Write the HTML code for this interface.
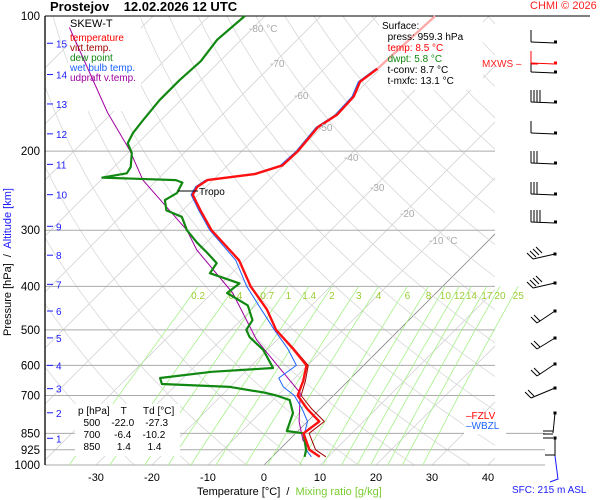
<!DOCTYPE html>
<html><head><meta charset="utf-8">
<style>
html,body{margin:0;padding:0;background:#fff;}
svg{display:block;font-family:"Liberation Sans",sans-serif;}
</style></head>
<body>
<svg id="chart" width="600" height="500" viewBox="0 0 600 500">
  <defs><clipPath id="plotclip"><rect x="45" y="16" width="450" height="449"/></clipPath></defs>
  <rect x="0" y="0" width="600" height="500" fill="#fff"/>
  <g id="grid" clip-path="url(#plotclip)"></g>
  <g id="isobars"></g>
  <g id="mixlines"></g>
  <g id="boxes">
    <rect x="68" y="17" width="73" height="94" fill="#fff"/>
    <rect x="379" y="17" width="104" height="73" fill="#fff"/>
    <rect x="75" y="404" width="105" height="52" fill="#fff"/>
    <rect x="464" y="414" width="42" height="20" fill="#fff"/>
  </g>
  <g id="series"></g>
  <g id="labels"></g>
  <g id="winds"></g>
</svg>
<script>
// ---- data ----
const presTemp = [959,925,850,800,750,700,650,600,550,500,450,400,350,300,270,250,240,232,225,215,200,177,166,151,140,131,100];
const tempVals = [8.5,5.4,1.4,2.1,-2.3,-6.4,-8.0,-10.2,-15.7,-22.0,-27.3,-34.3,-41.0,-51.3,-57.0,-61.0,-61.6,-61.0,-53.6,-50.2,-50.0,-50.7,-49.5,-49.8,-51.3,-50.5,-49.6];
const presDew = [959,925,850,840,766,717,700,690,670,660,640,620,608,554,519,500,476,441,414,394,374,355,337,320,300,280,271,257,248,235,232,229,224,217,202,192,182,170,154,139,126,113,100];
const dewVals = [5.8,4.8,1.4,-2.0,-4.1,-7.0,-10.2,-12.9,-20.0,-32.7,-34.1,-26,-15.7,-20.7,-25.4,-27.3,-27.9,-31.4,-37.3,-36.8,-43.9,-44.5,-48.0,-51.6,-55.7,-59.0,-62.9,-65.0,-64.1,-65.0,-66.6,-80.2,-76.6,-77.0,-79.3,-81.8,-82.7,-83.2,-83.8,-83.8,-83.4,-84.3,-83.6];
const presWet = [959,925,850,800,750,700,670,640,600,550,500,450,400,350,300,270,250,240,232,225,215,200,177,166,151,140,131];
const wetVals = [7.0,4.8,1.6,0.0,-3.2,-7.0,-10.5,-12.9,-12.0,-16.6,-22.3,-28.3,-35.0,-41.6,-51.6,-57.3,-61.3,-61.9,-61.3,-54.0,-50.6,-50.3,-51.0,-49.8,-50.1,-51.6,-50.8];
const presVirt = [959,925,850,800,750,700,650,600,550,500,450];
const virtVals = [9.6,6.5,2.4,3.0,-1.5,-5.8,-7.6,-9.9,-15.5,-21.9,-27.3];
const presParcel = [959,925,880,800,691,600,527,414,332,300,232,199,164,106];
const parcelVals = [8.5,5.5,2.5,-1.5,-6.4,-15.4,-23.6,-36.3,-50.4,-55.7,-72.5,-80.2,-90.9,-112.9];
const isobarLevels = [200,300,400,500,600,700,850,925,1000];
const pressureTicks = [100,200,300,400,500,600,700,850,925,1000];
const tempTicks = [-30,-20,-10,0,10,20,30,40];
const isoLabelTemps = [-80,-70,-60,-50,-40,-30,-20,-10];
const mixRatios = [0.2,0.4,0.7,1,1.4,2,3,4,6,8,10,12,14,17,20,25];
const altKm = [1,2,3,4,5,6,7,8,9,10,11,12,13,14,15];
const altPres = [872,765,676,600,521,454,396,341,294,250,214,183,157,135,115];

// ---- axes ----
const NS='http://www.w3.org/2000/svg';
function yP(p){return 16+195*Math.log(p/100);}
function xT(t,p){return 264+5.6*t+(465-yP(p));}
function el(tag,attrs,parent){const e=document.createElementNS(NS,tag);for(const k in attrs)e.setAttribute(k,attrs[k]);parent.appendChild(e);return e;}
const grid=document.getElementById('grid');
const iso=document.getElementById('isobars');
const mix=document.getElementById('mixlines');
const series=document.getElementById('series');
const labels=document.getElementById('labels');
const winds=document.getElementById('winds');

for(let t=-130;t<=40;t+=10){
  const l=el('line',{x1:xT(t,1000),y1:yP(1000),x2:xT(t,100),y2:yP(100),stroke:t===0?'#888':'#d4d4d4','stroke-width':0.8},grid);
  
  
}
for(let th=250;th<=480;th+=10){
  let d='';
  for(let p=1050;p>=100;p-=10){const t=th*Math.pow(p/1000,0.286)-273.15;d+=(d?'L':'M')+xT(t,p).toFixed(1)+','+yP(p).toFixed(1);}
  const a=el('path',{d:d,fill:'none',stroke:'#d8d8d8','stroke-width':0.8},grid);
  
  
}
isobarLevels.forEach(p=>{
  const x2=p>=850?545:495;
  const l=el('line',{x1:45,y1:yP(p),x2:x2,y2:yP(p),stroke:'#aaa','stroke-width':1},iso);
  
  
});
el('line',{x1:45,y1:16,x2:590,y2:16,stroke:'#000','stroke-width':1},iso);
el('line',{x1:45,y1:16,x2:45,y2:465,stroke:'#000','stroke-width':1.3},iso);
function tMix(w,p){const e=w*p/(622+w);const l=Math.log(e/6.112);return 243.5*l/(17.67-l);}
mixRatios.forEach(w=>{
  let d='';
  for(let p=1000;p>=400;p-=20){d+=(d?'L':'M')+xT(tMix(w,p),p).toFixed(1)+','+yP(p).toFixed(1);}
  const m=el('path',{d:d,fill:'none',stroke:'#a6f08a','stroke-width':0.8},mix);
  
  
  const t=el('text',{x:xT(tMix(w,400),400),y:299,'font-size':10,fill:'#9acd32','text-anchor':'middle'},mix);
  t.textContent=String(w);
  
  
});
isoLabelTemps.forEach((t,i)=>{
  const yy=[28,63,95,127,157,187,213,240][i];
  const p=100*Math.exp((yy-16)/195);
  const tx=el('text',{x:xT(t,p)-4,y:yy+4,'font-size':10,fill:'#aaa'},labels);
  tx.textContent=(t===-80||t===-10)?t+' °C':String(t);
  
  
});

function line(pr,vals,color,w,name){
  let d='';
  pr.forEach((p,i)=>{d+=(d?'L':'M')+xT(vals[i],p).toFixed(1)+','+yP(p).toFixed(1);});
  const s=el('path',{d:d,fill:'none',stroke:color,'stroke-width':w,'stroke-linejoin':'round'},series);
  
  
}
line(presParcel,parcelVals,'#a000a0',1,'parcel-line');
line(presWet,wetVals,'#1e64ff',1,'wet-bulb-line');
line(presVirt,virtVals,'#a00000',1,'virtual-temp-line');
line(presDew,dewVals,'#118811',2.2,'dewpoint-line');
line(presTemp.slice(0,26),tempVals.slice(0,26),'#ff1010',2.4,'temperature-line');
line(presTemp.slice(25),tempVals.slice(25),'#ffaaaa',2.4,'temperature-upper-line');

el('line',{x1:178,y1:191,x2:198,y2:191,stroke:'#000','stroke-width':1},series);
const tr=el('text',{x:199,y:195,'font-size':10,fill:'#000'},labels);tr.textContent='Tropo';



pressureTicks.forEach(p=>{
  const t=el('text',{x:40,y:yP(p)+4,'font-size':11.5,fill:'#000','text-anchor':'end'},labels);
  t.textContent=String(p);
  
  
});
tempTicks.forEach(t=>{
  const tx=el('text',{x:xT(t,1000),y:481,'font-size':11,fill:'#000','text-anchor':'middle'},labels);
  tx.textContent=String(t);
  
  
});
altKm.forEach((k,i)=>{
  const y=yP(altPres[i]);
  el('line',{x1:47,y1:y,x2:53,y2:y,stroke:'#1a1aff','stroke-width':1},labels);
  const t=el('text',{x:56,y:y+4,'font-size':10,fill:'#1a1aff'},labels);
  t.textContent=String(k);
  
  
});

function barbH(y,color,n){
  el('line',{x1:531,y1:y,x2:555,y2:y+1,stroke:color,'stroke-width':1},winds);
  el('rect',{x:554,y:y-1.5,width:3,height:3,fill:color},winds);
  for(let i=0;i<n;i++)el('line',{x1:531+i*3,y1:y,x2:531+i*3,y2:y-12,stroke:color,'stroke-width':1},winds);
}
[[42,1],[72,1],[102,4],[133,1],[163,3],[194,3],[222,4]].forEach(b=>barbH(b[0],'#000',b[1]));
barbH(63,'#ff0000',1);
function barbD(x1,y1,x2,y2,n){
  el('line',{x1:x1,y1:y1,x2:x2,y2:y2,stroke:'#000','stroke-width':1},winds);
  el('rect',{x:x2-1.5,y:y2-1.5,width:3,height:3,fill:'#000'},winds);
  for(let i=0;i<n;i++)el('line',{x1:x1+i*3,y1:y1-i*2,x2:x1+i*3-6,y2:y1-i*2-6,stroke:'#000','stroke-width':1},winds);
}
barbD(533,259,555,254,4);barbD(533,288,555,283,4);barbD(537,323,555,311,2);
barbD(537,349,555,338,2);barbD(537,376,555,364,2);barbD(531,398,555,388,2);
el('path',{d:'M555,413 L553,433 M543,431 L553,431 M543,434 L553,434 M543,438 L553,438',stroke:'#000',fill:'none','stroke-width':1},winds);
el('rect',{x:553.5,y:411.5,width:3,height:3,fill:'#000'},winds);
el('path',{d:'M555,438 L555,456 M545,455 L555,455',stroke:'#000',fill:'none','stroke-width':1},winds);
el('rect',{x:553.5,y:436.5,width:3,height:3,fill:'#000'},winds);
el('path',{d:'M555,456 L558,479 L550,482',stroke:'#1a1aff',fill:'none','stroke-width':1},winds);
el('line',{x1:531,y1:64,x2:538,y2:64,stroke:'#ff0000','stroke-width':1},winds);
</script>
<div style="position:absolute;left:0;top:0;width:600px;height:500px;pointer-events:none;font-family:'Liberation Sans',sans-serif;">
  <div style="position:absolute;left:50px;top:-1px;font-size:13px;font-weight:bold;white-space:pre;">Prostejov    12.02.2026 12 UTC</div>
  <div style="position:absolute;left:530px;top:0px;font-size:11px;color:#ff2020;">CHMI © 2026</div>
  <div style="position:absolute;left:70px;top:19px;font-size:10px;line-height:10px;">
    <div style="font-size:11px;margin-bottom:5px;">SKEW-T</div>
    <div style="color:#ff0000">temperature</div>
    <div style="color:#a00000">virt.temp.</div>
    <div style="color:#118811">dew point</div>
    <div style="color:#1e64ff">wet bulb temp.</div>
    <div style="color:#a000a0">udpraft v.temp.</div>
  </div>
  <div style="position:absolute;left:382px;top:21px;font-size:10px;line-height:11px;white-space:pre;">Surface:
  <span style="color:#000">press: 959.3 hPa</span>
  <span style="color:#ff0000">temp: 8.5 °C</span>
  <span style="color:#118811">dwpt: 5.8 °C</span>
  t-conv: 8.7 °C
  t-mxfc: 13.1 °C</div>
  <div style="position:absolute;left:482px;top:59px;font-size:10px;color:#ff2020;">MXWS –</div>
  <div style="position:absolute;left:78px;top:406px;font-size:10px;line-height:12px;white-space:pre;">p [hPa]    T      Td [°C]
  500    -22.0    -27.3
  700     -6.4    -10.2
  850      1.4      1.4</div>
  <div style="position:absolute;left:466px;top:412px;font-size:10px;line-height:10px;color:#ff0000;">–FZLV</div>
  <div style="position:absolute;left:466px;top:422px;font-size:10px;line-height:10px;color:#1e64ff;">–WBZL</div>
  <div style="position:absolute;left:197px;top:486px;font-size:11px;white-space:pre;">Temperature [°C]  /  <span style="color:#7acc30">Mixing ratio [g/kg]</span></div>
  <div style="position:absolute;left:512px;top:485px;font-size:10px;color:#1a1aff;">SFC: 215 m ASL</div>
  <div style="position:absolute;left:2px;top:336px;transform:rotate(-90deg);transform-origin:0 0;font-size:11px;white-space:pre;">Pressure [hPa]  /  <span style="color:#1a1aff">Altitude [km]</span></div>
</div>
</body></html>
